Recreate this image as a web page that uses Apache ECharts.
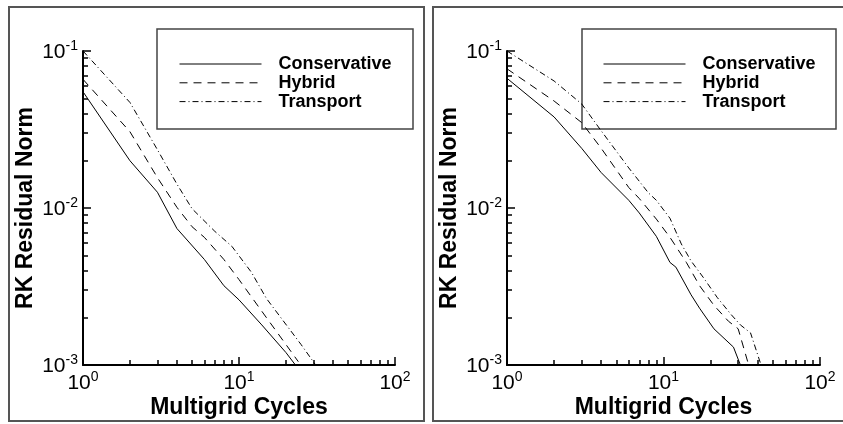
<!DOCTYPE html>
<html>
<head>
<meta charset="utf-8">
<script src="https://cdn.jsdelivr.net/npm/echarts@6/dist/echarts.min.js"></script>
<style>
  html, body { margin: 0; padding: 0; background: #ffffff; }
  #chart { width: 843px; height: 424px; }
</style>
</head>
<body>
<div id="chart"></div>
<script>
// Series names shared by both panels
const seriesNames = ['Conservative', 'Hybrid', 'Transport'];

// Left panel: residual norm vs multigrid cycles
const leftConsCycles = [1, 2, 3, 4, 6, 8, 10, 14, 20, 23];
const leftConsNorm   = [0.055, 0.020, 0.0126, 0.0074, 0.0047, 0.0032, 0.0026, 0.0018, 0.0012, 0.001];
const leftHybCycles  = [1, 2, 3, 4, 5, 6, 8, 10, 14, 20, 24];
const leftHybNorm    = [0.066, 0.0306, 0.0156, 0.0101, 0.0076, 0.0065, 0.0047, 0.0035, 0.0022, 0.00135, 0.00105];
const leftTrnCycles  = [1, 2, 3, 4, 5, 7, 9, 12, 15, 25, 31];
const leftTrnNorm    = [0.1, 0.047, 0.0235, 0.0142, 0.0099, 0.0071, 0.0057, 0.0039, 0.00265, 0.00135, 0.001];

// Right panel
const rightConsCycles = [1, 2, 3, 4, 6, 7, 9, 11, 12, 15, 17, 21, 28, 31];
const rightConsNorm   = [0.067, 0.038, 0.024, 0.0168, 0.0112, 0.0093, 0.0066, 0.0045, 0.0042, 0.0028, 0.0023, 0.0017, 0.0013, 0.001];
const rightHybCycles  = [1, 2, 3, 4, 6, 7, 9, 11, 12, 14, 17, 21, 26, 30, 35];
const rightHybNorm    = [0.077, 0.048, 0.035, 0.024, 0.0135, 0.0115, 0.0085, 0.0065, 0.0057, 0.0045, 0.0032, 0.0024, 0.0019, 0.0017, 0.001];
const rightTrnCycles  = [1, 2, 3, 4, 6, 8, 9, 11, 13, 15, 18, 22, 27, 31, 36, 42];
const rightTrnNorm    = [0.1, 0.0644, 0.046, 0.031, 0.018, 0.0125, 0.0112, 0.0086, 0.0059, 0.0046, 0.0036, 0.0027, 0.0021, 0.0018, 0.0016, 0.001];

// Decade tick exponents
const xTickExponents = [0, 1, 2];
const yTickExponents = [-3, -2, -1];
// Mantissas of the minor ticks within each decade
const minorMantissas = [2, 3, 4, 5, 6, 7, 8, 9];

const FONT = '"Liberation Sans", Arial, Helvetica, sans-serif';
const lineTypes = ['solid', [8, 6], [6, 3, 1, 3]];

function pairs(xs, ys) { return xs.map((x, i) => [x, ys[i]]); }
function minorLogPositions(exps) {
  const out = [];
  exps.slice(0, -1).forEach(e => minorMantissas.forEach(m => out.push(Math.log10(m) + e)));
  return out;
}

const powerRich = {
  b: { fontSize: 21, lineHeight: 24, verticalAlign: 'bottom', color: '#000', fontFamily: FONT },
  s: { fontSize: 14, lineHeight: 11, verticalAlign: 'top', color: '#000', fontFamily: FONT }
};
function powerLabel(v) {
  return '{b|10}{s|' + Math.round(Math.log10(v)) + '}';
}

const grids = [
  { left: 83, top: 51, width: 312, height: 320 },
  { left: 507, top: 51, width: 313, height: 320 }
];

const nameStyle = { fontSize: 23, fontWeight: 'bold', color: '#000', fontFamily: FONT };

const xAxes = [];
const yAxes = [];
grids.forEach((g, gi) => {
  xAxes.push({
    type: 'log', logBase: 10, gridIndex: gi, min: 1, max: 100, position: 'bottom',
    name: 'Multigrid Cycles', nameLocation: 'middle', nameGap: 31, nameMoveOverlap: false,
    nameTextStyle: nameStyle,
    axisLine: { show: true, onZero: false, lineStyle: { color: '#000', width: 2 } },
    axisTick: { show: true, inside: true, length: 8, lineStyle: { color: '#000', width: 1.5 } },
    axisLabel: { formatter: powerLabel, rich: powerRich, margin: 5, showMinLabel: true, showMaxLabel: true },
    splitLine: { show: false }, minorTick: { show: false }
  });
  xAxes.push({
    type: 'value', gridIndex: gi, min: xTickExponents[0], max: xTickExponents[xTickExponents.length - 1],
    position: 'bottom', axisLine: { show: false },
    axisTick: { show: true, inside: true, length: 5, customValues: minorLogPositions(xTickExponents),
                lineStyle: { color: '#000', width: 1.5 } },
    axisLabel: { show: false }, splitLine: { show: false }
  });
  yAxes.push({
    type: 'log', logBase: 10, gridIndex: gi, min: 0.001, max: 0.1, position: 'left',
    name: 'RK Residual Norm', nameLocation: 'middle', nameGap: 46, nameRotate: 90, nameMoveOverlap: false,
    nameTextStyle: nameStyle,
    axisLine: { show: true, onZero: false, lineStyle: { color: '#000', width: 2 } },
    axisTick: { show: true, inside: true, length: 8, lineStyle: { color: '#000', width: 1.5 } },
    axisLabel: { formatter: powerLabel, rich: powerRich, margin: 5, showMinLabel: true, showMaxLabel: true },
    splitLine: { show: false }, minorTick: { show: false }
  });
  yAxes.push({
    type: 'value', gridIndex: gi, min: yTickExponents[0], max: yTickExponents[yTickExponents.length - 1],
    position: 'left', axisLine: { show: false },
    axisTick: { show: true, inside: true, length: 5, customValues: minorLogPositions(yTickExponents),
                lineStyle: { color: '#000', width: 1.5 } },
    axisLabel: { show: false }, splitLine: { show: false }
  });
});

const panelData = [
  [pairs(leftConsCycles, leftConsNorm), pairs(leftHybCycles, leftHybNorm), pairs(leftTrnCycles, leftTrnNorm)],
  [pairs(rightConsCycles, rightConsNorm), pairs(rightHybCycles, rightHybNorm), pairs(rightTrnCycles, rightTrnNorm)]
];

const series = [];
panelData.forEach((sets, pi) => {
  sets.forEach((data, si) => {
    series.push({
      type: 'line', name: seriesNames[si], data: data,
      xAxisIndex: pi * 2, yAxisIndex: pi * 2,
      symbol: 'none', showSymbol: false, clip: true,
      itemStyle: { color: '#000' },
      lineStyle: { color: '#000', width: 1, type: lineTypes[si] }
    });
  });
});

function legendAt(left) {
  return {
    show: true, orient: 'vertical', left: left, top: 55, padding: 0,
    itemWidth: 82, itemHeight: 14, itemGap: 0.8,
    selectedMode: false, data: seriesNames,
    lineStyle: { width: 1 },
    itemStyle: { opacity: 0 },
    textStyle: { fontSize: 18, fontWeight: 'bold', color: '#000', fontFamily: FONT,
                 lineHeight: 18, padding: [0, 0, 0, 12] }
  };
}

const frameStyle = { fill: 'none', stroke: '#555', lineWidth: 2 };
const boxStyle = { fill: 'none', stroke: '#444', lineWidth: 1.5 };

const option = {
  animation: false,
  backgroundColor: '#fff',
  textStyle: { fontFamily: FONT },
  grid: grids,
  xAxis: xAxes,
  yAxis: yAxes,
  legend: [legendAt(179), legendAt(603)],
  series: series,
  graphic: [
    { type: 'rect', shape: { x: 9, y: 7, width: 415, height: 414 }, style: frameStyle, silent: true },
    { type: 'rect', shape: { x: 433, y: 7, width: 420, height: 414 }, style: frameStyle, silent: true },
    { type: 'rect', shape: { x: 157, y: 29, width: 256, height: 100 }, style: boxStyle, silent: true },
    { type: 'rect', shape: { x: 582, y: 29, width: 254, height: 100 }, style: boxStyle, silent: true }
  ]
};

const chart = echarts.init(document.getElementById('chart'), null, { renderer: 'canvas' });
chart.setOption(option);
</script>
</body>
</html>
